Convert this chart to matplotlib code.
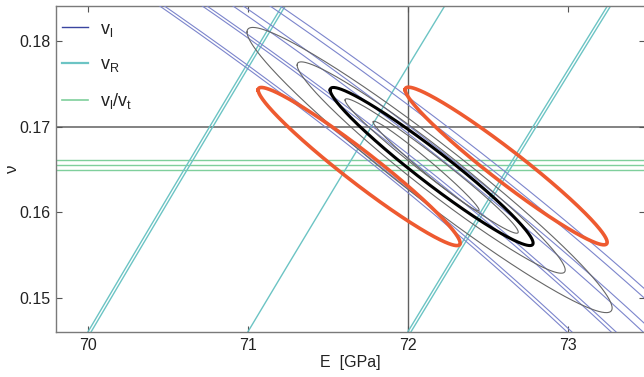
import numpy as np
import matplotlib
matplotlib.use("Agg")
import matplotlib.pyplot as plt
from matplotlib.lines import Line2D

plt.rcParams['font.family'] = ['Liberation Sans', 'DejaVu Sans']
plt.rcParams['mathtext.fontset'] = 'custom'
plt.rcParams['mathtext.rm'] = 'Liberation Sans'

# ---------------- data ----------------
x_ticks = [70, 71, 72, 73]
y_ticks = [0.15, 0.16, 0.17, 0.18]
x_limits = [69.80, 73.48]
y_limits = [0.14603, 0.18409]

# reference cross (measured E and nu)
E_ref = 72.0
nu_ref = 0.17

# v_l / v_t constant lines (nu values)
nu_ratio_lines = [0.16607, 0.16549, 0.16491]

# longitudinal velocity iso-lines: E (GPa) where each line crosses nu = 0.17
vl_E_at_017 = [71.48, 71.51, 71.75, 71.78, 71.945, 72.01, 72.18, 72.245]

# Rayleigh velocity iso-lines: E (GPa) where each line crosses nu = 0.17
vR_E_at_017 = [70.76, 70.78, 71.77, 72.78, 72.80]

# concentric confidence ellipses (gray) : centre, tip offset, half vertical chord
ell_E = [72.1125, 72.147, 72.144, 72.134]
ell_nu = [0.16541, 0.16541, 0.16523, 0.16494]
ell_dE = [-0.331, -0.541, -0.8375, -1.1406]
ell_dnu = [0.00514, 0.0077, 0.01196, 0.01611]
ell_h = [0.00093, 0.00152, 0.00303, 0.0042]

# bold ellipse
bold_E, bold_nu, bold_dE, bold_dnu, bold_h = 72.147, 0.16535, -0.634, 0.00893, 0.00233

# red ellipses
red_E = [71.694, 72.6125]
red_nu = [0.16535, 0.16541]
red_dE = [-0.631, -0.631]
red_dnu = [0.00893, 0.00890]
red_h = [0.00233, 0.00233]

# ---------------- helpers ----------------
def f_vl(nu):
    # E proportional to (1+nu)(1-2nu)/(1-nu) for constant longitudinal velocity
    return (1 + nu) * (1 - 2 * nu) / (1 - nu)

def f_vR(nu):
    # Viktorov approximation for constant Rayleigh velocity
    return (1 + nu) ** 3 / (0.87 + 1.12 * nu) ** 2

def ellipse(ax, E, nu, dE, dnu, h, **kw):
    t = np.linspace(0, 2 * np.pi, 400)
    ax.plot(E + np.cos(t) * dE, nu + np.cos(t) * dnu + np.sin(t) * h, **kw)

# ---------------- figure ----------------
fig = plt.figure(figsize=(6.44, 3.77), dpi=100)
ax = fig.add_axes([56 / 644, 45 / 377, 589 / 644, 326 / 377])

spine_c = '#7a7a7a'
c_vl = '#7c85cc'
c_vR = '#6cc4c4'
c_ratio = '#7fcf9c'

nu_grid = np.linspace(y_limits[0] - 0.002, y_limits[1] + 0.002, 300)

ax.axhline(nu_ref, color='#606060', lw=1.1, zorder=1)
ax.axvline(E_ref, color='#606060', lw=1.0, zorder=1)

for nv in nu_ratio_lines:
    ax.axhline(nv, color=c_ratio, lw=1.0, zorder=2)

for e0 in vR_E_at_017:
    ax.plot(e0 * f_vR(nu_grid) / f_vR(0.17), nu_grid, color=c_vR, lw=1.0, zorder=2)

for e0 in vl_E_at_017:
    ax.plot(e0 * f_vl(nu_grid) / f_vl(0.17), nu_grid, color=c_vl, lw=0.8, zorder=3)

for i in range(len(ell_E)):
    ellipse(ax, ell_E[i], ell_nu[i], ell_dE[i], ell_dnu[i], ell_h[i],
            color='#666666', lw=0.8, zorder=4)

ellipse(ax, bold_E, bold_nu, bold_dE, bold_dnu, bold_h, color='black', lw=2.2, zorder=5)

for i in range(len(red_E)):
    ellipse(ax, red_E[i], red_nu[i], red_dE[i], red_dnu[i], red_h[i],
            color='#ee5a30', lw=2.6, zorder=5)

ax.set_xlim(x_limits)
ax.set_ylim(y_limits)
ax.set_xticks(x_ticks)
ax.set_yticks(y_ticks)
ax.set_xticklabels([str(v) for v in x_ticks])
ax.set_yticklabels(['%.2f' % v for v in y_ticks])
ax.tick_params(direction='in', length=4, width=0.8, color='#555555',
               labelsize=11.5, top=True, right=True, pad=4, labelcolor='#222222')
for s in ax.spines.values():
    s.set_color(spine_c)
    s.set_linewidth(1.0)

ax.set_xlabel('E  [GPa]', fontsize=11.5, color='#222222', labelpad=2)
ax.set_ylabel('ν', fontsize=12, color='#222222')
ax.yaxis.set_label_coords(-0.061, 0.5)

handles = [Line2D([], [], color='#3a45a0', lw=1.0),
           Line2D([], [], color=c_vR, lw=1.6),
           Line2D([], [], color=c_ratio, lw=1.2)]
labels = [r'$\mathregular{v_l}$', r'$\mathregular{v_R}$', r'$\mathregular{v_l/v_t}$']
leg = ax.legend(handles, labels, loc='upper left', frameon=False, fontsize=13,
                handlelength=1.45, labelspacing=0.95, borderaxespad=0.0, borderpad=0.0,
                handletextpad=0.65, bbox_to_anchor=(0.01, 0.955))
for t in leg.get_texts():
    t.set_color('#222222')

fig.savefig('out.png', dpi=100)
